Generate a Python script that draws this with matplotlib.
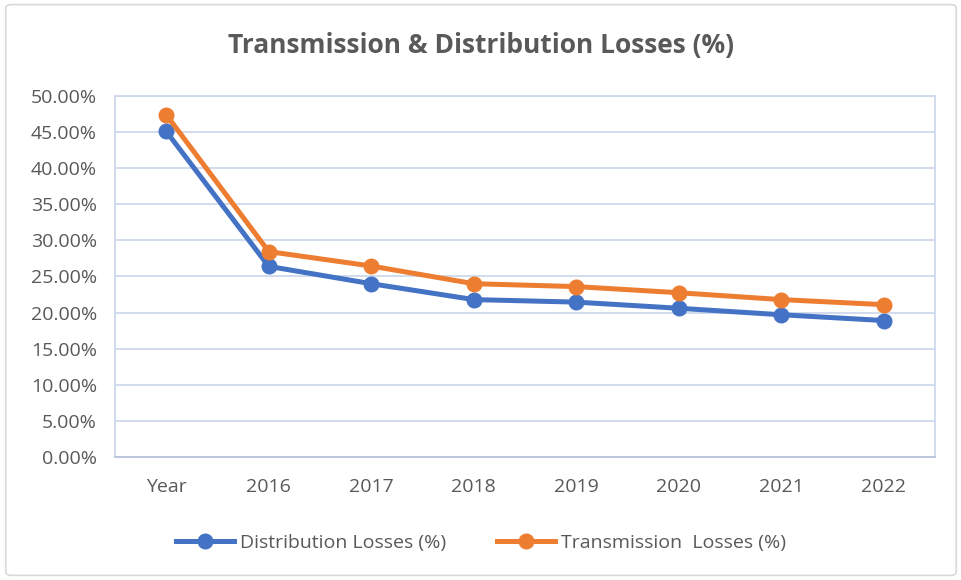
import numpy as np
import matplotlib.pyplot as plt
from matplotlib.patches import FancyBboxPatch
from matplotlib.ticker import FuncFormatter

# Dados
categorias = ['Year', '2016', '2017', '2018', '2019', '2020', '2021', '2022']
perdas_distribuicao = [45.1, 26.4, 24.0, 21.8, 21.45, 20.6, 19.7, 18.9]
perdas_transmissao = [47.4, 28.45, 26.45, 24.0, 23.6, 22.75, 21.8, 21.1]

plt.rcParams['font.family'] = ['Open Sans', 'DejaVu Sans']
cor_texto = '#595959'
cor_grade = '#cfd9ec'

fig = plt.figure(figsize=(9.62, 5.8), dpi=100)
fig.patches.append(FancyBboxPatch((0.006, 0.008), 0.988, 0.984,
                                  boxstyle='round,pad=0,rounding_size=0.006',
                                  transform=fig.transFigure, fill=False,
                                  edgecolor='#d9d9d9', linewidth=1.2))

ax = fig.add_axes([0.1195, 0.2121, 0.8524, 0.6224])
x = np.arange(len(categorias))
ax.plot(x, perdas_distribuicao, color='#4472C4', linewidth=3.6, marker='o',
        markersize=10.5, label='Distribution Losses (%)', zorder=3)
ax.plot(x, perdas_transmissao, color='#ED7D31', linewidth=3.6, marker='o',
        markersize=10.5, label='Transmission  Losses (%)', zorder=3)

ax.set_xlim(-0.5, len(categorias) - 0.5)
ax.set_ylim(0, 50)
ax.set_yticks(np.arange(0, 50.1, 5))
ax.yaxis.set_major_formatter(FuncFormatter(lambda v, p: f'{v:.2f}%'))
ax.set_xticks(x)
ax.set_xticklabels(categorias)
ax.grid(axis='y', color=cor_grade, linewidth=1.3)
ax.set_axisbelow(True)
for lado in ['left', 'right', 'top']:
    ax.spines[lado].set_color(cor_grade)
    ax.spines[lado].set_linewidth(1.3)
ax.spines['bottom'].set_color('#b8c4dc')
ax.spines['bottom'].set_linewidth(1.3)
ax.tick_params(axis='both', length=0, labelsize=14, colors=cor_texto)
ax.tick_params(axis='y', pad=13)
ax.tick_params(axis='x', pad=15)

fig.text(0.5, 0.922, 'Transmission & Distribution Losses (%)', ha='center',
         va='center', fontsize=19, fontweight='bold', color=cor_texto)

leg = fig.legend(loc='center', bbox_to_anchor=(0.5, 0.064), ncol=2, frameon=False,
                 fontsize=14, handlelength=3.0, columnspacing=2.6,
                 handletextpad=0.3)
for t in leg.get_texts():
    t.set_color(cor_texto)

fig.savefig('out.png', dpi=100)
